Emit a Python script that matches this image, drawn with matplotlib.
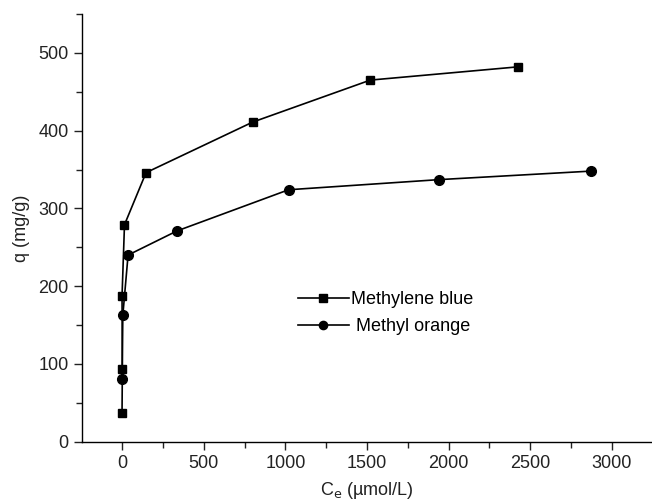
import matplotlib
matplotlib.use("Agg")
import matplotlib.pyplot as plt
from matplotlib.ticker import MultipleLocator

# values
mb_ce = [0, 2, 0, 15, 147, 800, 1520, 2422]
mb_q = [37, 93, 187, 279, 346, 411, 465, 482]
mo_ce = [0, 5, 37, 336, 1020, 1940, 2874]
mo_q = [81, 163, 240, 271, 324, 337, 348]

plt.rcParams["font.family"] = ["Liberation Sans", "DejaVu Sans"]
plt.rcParams["font.size"] = 13

fig = plt.figure(figsize=(6.52, 5.0), dpi=100)
ax = fig.add_axes([0.1258, 0.1166, 0.8742, 0.8554])

ax.plot(mb_ce, mb_q, "-", color="black", lw=1.2, marker="s", ms=6,
        label="Methylene blue")
ax.plot(mo_ce, mo_q, "-", color="black", lw=1.2, marker="o", ms=7,
        label=" Methyl orange")

ax.set_xlim(-245, 3245)
ax.set_ylim(0, 550)
ax.xaxis.set_major_locator(MultipleLocator(500))
ax.xaxis.set_minor_locator(MultipleLocator(250))
ax.yaxis.set_major_locator(MultipleLocator(100))
ax.yaxis.set_minor_locator(MultipleLocator(50))

for side in ("top", "right"):
    ax.spines[side].set_visible(False)
for side in ("left", "bottom"):
    ax.spines[side].set_linewidth(1.0)
ax.tick_params(which="major", direction="out", length=6, width=1.0,
               colors="#222222", labelsize=13)
ax.tick_params(which="minor", direction="out", length=4, width=1.0,
               colors="#222222")

ax.set_xlabel("C$_\\mathrm{e}$ (\u00b5mol/L)", fontsize=13, labelpad=6,
              color="#222222")
ax.set_ylabel("q (mg/g)", fontsize=13, labelpad=6, color="#222222")

ax.legend(loc="center left", bbox_to_anchor=(0.457, 0.374),
          bbox_transform=fig.transFigure, frameon=False, fontsize=13,
          handlelength=2.8, handletextpad=0.15, labelspacing=0.55,
          markerscale=0.85, borderpad=0, borderaxespad=0)

fig.savefig("out.png", dpi=100)
